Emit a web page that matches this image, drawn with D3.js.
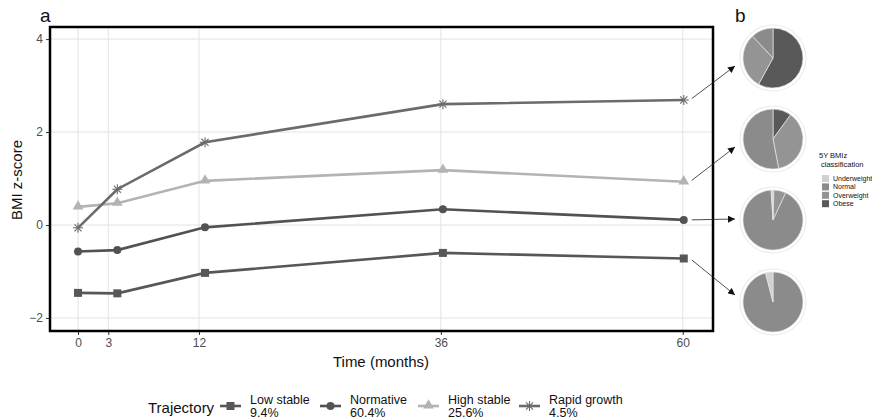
<!DOCTYPE html>
<html>
<head>
<meta charset="utf-8">
<script src="https://cdn.jsdelivr.net/npm/d3@7"></script>
<style>
  body { margin: 0; background: #fff; }
  text { font-family: "Liberation Sans", Arial, sans-serif; }
</style>
</head>
<body>
<svg id="chart" width="872" height="419"></svg>
<script>
// trajectory data (months vs mean BMI z-score)
var months = [0, 3.9, 12.6, 36.2, 60.1];
var xTicks = [0, 3, 12, 36, 60];
var yTicks = [-2, 0, 2, 4];
var groups = ["Low stable", "Normative", "High stable", "Rapid growth"];
var shares = ["9.4%", "60.4%", "25.6%", "4.5%"];
var lowStable = [-1.46, -1.47, -1.03, -0.60, -0.72];
var normative = [-0.57, -0.54, -0.05, 0.34, 0.11];
var highStable = [0.39, 0.47, 0.95, 1.18, 0.93];
var rapidGrowth = [-0.06, 0.77, 1.78, 2.60, 2.69];
var series = [lowStable, normative, highStable, rapidGrowth];
var lineColors = ["#575757", "#525252", "#b3b3b3", "#6b6b6b"];
var shapes = ["square", "circle", "triangle", "asterisk"];

// 5 year BMIz classification, pies from top to bottom
var classes = ["Underweight", "Normal", "Overweight", "Obese"];
var classColors = ["#d0d0d0", "#8b8b8b", "#949494", "#595959"];
var pieOrder = ["Rapid growth", "High stable", "Normative", "Low stable"];
var pieUnder = [0, 0, 1, 4];
var pieNormal = [12, 53, 92, 96];
var pieOver = [30, 37, 6.5, 0];
var pieObese = [58, 10, 0.5, 0];

var svg = d3.select('#chart');

var panel = {left: 50, right: 713, top: 27, bottom: 331};

var x = d3.scaleLinear().domain([-2.78, 63]).range([panel.left, panel.right]);
var y = d3.scaleLinear().domain([-2.28, 4.26]).range([panel.bottom, panel.top]);

// grid
var grid = svg.append('g');
grid.selectAll('.gx').data(xTicks).enter().append('line')
    .attr('x1', function(d) { return x(d); }).attr('x2', function(d) { return x(d); })
    .attr('y1', panel.top).attr('y2', panel.bottom)
    .style('stroke', '#e3e3e3').style('stroke-width', 1);
grid.selectAll('.gy').data(yTicks).enter().append('line')
    .attr('y1', function(d) { return y(d); }).attr('y2', function(d) { return y(d); })
    .attr('x1', panel.left).attr('x2', panel.right)
    .style('stroke', '#e3e3e3').style('stroke-width', 1);

// axes
var xAxis = svg.append('g')
    .attr('transform', 'translate(0,' + panel.bottom + ')')
    .call(d3.axisBottom(x).tickValues(xTicks).tickFormat(d3.format('d')).tickSize(4).tickPadding(3));
var yAxis = svg.append('g')
    .attr('transform', 'translate(' + panel.left + ',0)')
    .call(d3.axisLeft(y).tickValues(yTicks).tickFormat(d3.format('d')).tickSize(4).tickPadding(3));
[xAxis, yAxis].forEach(function(a) {
    a.select('.domain').remove();
    a.selectAll('line').style('stroke', '#333');
    a.selectAll('text').style('fill', '#4d4d4d').style('font-size', '12px')
        .style('font-family', '"Liberation Sans", Arial, sans-serif');
});

// marker drawing
function drawMarker(g, shape, cx, cy, color) {
    if (shape == 'square') {
        g.append('rect').attr('x', cx - 4).attr('y', cy - 4).attr('width', 8).attr('height', 8)
            .style('fill', color);
    } else if (shape == 'circle') {
        g.append('circle').attr('cx', cx).attr('cy', cy).attr('r', 4).style('fill', color);
    } else if (shape == 'triangle') {
        g.append('path').attr('d', d3.symbol().type(d3.symbolTriangle).size(50)())
            .attr('transform', 'translate(' + cx + ',' + (cy - 0.5) + ')').style('fill', color);
    } else {
        var r = 5;
        for (var k = 0; k < 4; k++) {
            var a = k * Math.PI / 4;
            g.append('line')
                .attr('x1', cx - r * Math.cos(a)).attr('y1', cy - r * Math.sin(a))
                .attr('x2', cx + r * Math.cos(a)).attr('y2', cy + r * Math.sin(a))
                .style('stroke', color).style('stroke-width', 1.1);
        }
    }
}

var line = d3.line()
    .x(function(d, i) { return x(months[i]); })
    .y(function(d) { return y(d); });

series.forEach(function(s, i) {
    var g = svg.append('g');
    g.append('path').attr('d', line(s))
        .style('fill', 'none').style('stroke', lineColors[i]).style('stroke-width', 2.6);
    s.forEach(function(v, j) {
        drawMarker(g, shapes[i], x(months[j]), y(v), lineColors[i]);
    });
});

// panel border
svg.append('rect')
    .attr('x', panel.left).attr('y', panel.top)
    .attr('width', panel.right - panel.left).attr('height', panel.bottom - panel.top)
    .style('fill', 'none').style('stroke', 'black').style('stroke-width', 2.5);

// titles
svg.append('text').attr('x', 40).attr('y', 22).text('a')
    .style('font-size', '19px').style('fill', '#111');
svg.append('text').attr('x', 735).attr('y', 22).text('b')
    .style('font-size', '19px').style('fill', '#111');
svg.append('text')
    .attr('transform', 'translate(22,180) rotate(-90)')
    .attr('text-anchor', 'middle')
    .text('BMI z-score').style('font-size', '15px').style('fill', '#111');
svg.append('text').attr('x', 381).attr('y', 367).attr('text-anchor', 'middle')
    .text('Time (months)').style('font-size', '15px').style('fill', '#111');

// bottom legend
svg.append('text').attr('x', 148).attr('y', 413).text('Trajectory')
    .style('font-size', '15px').style('fill', '#111');
var keyX = [220, 320, 418, 519];
groups.forEach(function(name, i) {
    var g = svg.append('g');
    var ky = 406;
    g.append('line').attr('x1', keyX[i]).attr('x2', keyX[i] + 21)
        .attr('y1', ky).attr('y2', ky)
        .style('stroke', lineColors[i]).style('stroke-width', 2.6);
    drawMarker(g, shapes[i], keyX[i] + 10.5, ky, lineColors[i]);
    g.append('text').attr('x', keyX[i] + 30).attr('y', 404).text(name)
        .style('font-size', '12.5px').style('fill', '#111');
    g.append('text').attr('x', keyX[i] + 30).attr('y', 417).text(shares[i])
        .style('font-size', '12.5px').style('fill', '#111');
});

// pies
var pieCy = [58, 139, 220, 302];
var pieCx = 773;
var pieR = 30;
var pie = d3.pie().sort(null).value(function(d) { return d.v; });
var arc = d3.arc().innerRadius(0).outerRadius(pieR);

pieOrder.forEach(function(name, i) {
    // clockwise from 12 o'clock: obese, overweight, normal, underweight
    var parts = [
        {c: 3, v: pieObese[i]},
        {c: 2, v: pieOver[i]},
        {c: 1, v: pieNormal[i]},
        {c: 0, v: pieUnder[i]}
    ];
    var g = svg.append('g').attr('transform', 'translate(' + pieCx + ',' + pieCy[i] + ')');
    g.append('circle').attr('r', pieR + 3).style('fill', '#fff')
        .style('stroke', '#ececec').style('stroke-width', 1.2);
    g.selectAll('path').data(pie(parts)).enter().append('path')
        .attr('d', arc)
        .style('fill', function(d) { return classColors[d.data.c]; })
        .style('stroke', function(d) { return d.data.v > 0 ? '#e6e6e6' : 'none'; })
        .style('stroke-width', 0.7);
});

// arrows from 60 month points to pies
svg.append('defs').append('marker')
    .attr('id', 'arrow').attr('viewBox', '0 0 10 10')
    .attr('refX', 10).attr('refY', 5)
    .attr('markerWidth', 7).attr('markerHeight', 7)
    .attr('markerUnits', 'userSpaceOnUse')
    .attr('orient', 'auto')
    .append('path').attr('d', 'M0,0L10,5L0,10z').style('fill', '#111');

var arrowEnds = [[735, 66], [735, 147], [735, 219], [735, 295]];
pieOrder.forEach(function(name, i) {
    var s = series[groups.indexOf(name)];
    var x0 = x(months[4]) + 8;
    var y0 = y(s[4]);
    svg.append('line')
        .attr('x1', x0).attr('y1', y0 + (arrowEnds[i][1] - y0) * 0.04)
        .attr('x2', arrowEnds[i][0]).attr('y2', arrowEnds[i][1])
        .style('stroke', '#222').style('stroke-width', 0.8)
        .attr('marker-end', 'url(#arrow)');
});

// pie legend
var lg = svg.append('g');
lg.append('text').attr('x', 819).attr('y', 158).text('5Y BMIz')
    .style('font-size', '7.5px').style('fill', '#111');
lg.append('text').attr('x', 821).attr('y', 167).text('classification')
    .style('font-size', '7.5px').style('fill', '#111');
classes.forEach(function(c, i) {
    lg.append('rect').attr('x', 822).attr('y', 175 + i * 8.4).attr('width', 7).attr('height', 7)
        .style('fill', classColors[i]);
    lg.append('text').attr('x', 833).attr('y', 181 + i * 8.4).text(c)
        .style('font-size', '7px').style('fill', '#111');
});
</script>
</body>
</html>
